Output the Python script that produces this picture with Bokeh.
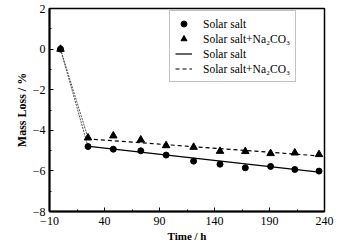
from bokeh.plotting import figure
from bokeh.models import FixedTicker, Legend, LegendItem, Range1d
from bokeh.embed import file_html
from bokeh.resources import INLINE

# ---- data ----
time_h = [0, 25, 48, 73, 96, 121, 145, 168, 191, 213, 235]
solar_salt = [0, -4.80, -4.93, -5.01, -5.22, -5.52, -5.67, -5.85, -5.78, -5.93, -6.01]
solar_salt_na = [0, -4.37, -4.27, -4.47, -4.75, -4.83, -5.03, -5.04, -5.14, -5.11, -5.19]
fit_x = [24, 235]
fit_solar = [-4.78, -6.06]
fit_na = [-4.42, -5.26]

x_ticks = [-10, 40, 90, 140, 190, 240]
x_minor = [15, 65, 115, 165, 215]
x_labels = {-10: "\u221210", 40: "40", 90: "90", 140: "140", 190: "190", 240: "240"}
y_ticks = [-8, -6, -4, -2, 0, 2]
y_minor = [-7, -5, -3, -1, 1]
y_labels = {-8: "\u22128", -6: "\u22126", -4: "\u22124", -2: "\u22122", 0: "0", 2: "2"}

label_a = "Solar salt"
label_b = "Solar salt+Na\u2082CO\u2083"

FONT = "Liberation Serif"

p = figure(width=364, height=252, output_backend="svg", toolbar_location=None,
           x_range=Range1d(-10, 240), y_range=Range1d(-8, 2),
           min_border_left=49, min_border_right=40, min_border_top=8, min_border_bottom=41)
p.background_fill_color = "white"
p.border_fill_color = "white"
p.outline_line_color = "black"
p.outline_line_width = 1.5
p.xgrid.visible = False
p.ygrid.visible = False

# connectors from the origin point
p.line(time_h[:2], solar_salt[:2], line_color="#555555", line_width=1, line_dash="2 1")
p.line(time_h[:2], solar_salt_na[:2], line_color="#555555", line_width=1, line_dash="2 1")

# fitted lines
l_solid = p.line(fit_x, fit_solar, line_color="black", line_width=1.2)
l_dash = p.line(fit_x, fit_na, line_color="black", line_width=1.2, line_dash="4 3")

# data points
r_circ = p.scatter(time_h, solar_salt, marker="circle", size=6, fill_color="black", line_color="black")
r_tri = p.scatter(time_h, solar_salt_na, marker="triangle", size=7.5, fill_color="black", line_color="black")

for ax, ticks, minor, labels in ((p.xaxis[0], x_ticks, x_minor, x_labels),
                                 (p.yaxis[0], y_ticks, y_minor, y_labels)):
    ax.ticker = FixedTicker(ticks=ticks, minor_ticks=minor)
    ax.major_label_overrides = labels
    ax.axis_line_width = 2
    ax.axis_line_color = "black"
    ax.major_tick_in = 4
    ax.major_tick_out = 0
    ax.minor_tick_in = 2
    ax.minor_tick_out = 0
    ax.major_tick_line_color = "black"
    ax.minor_tick_line_color = "black"
    ax.major_label_text_font = FONT
    ax.major_label_text_font_size = "12px"
    ax.major_label_text_color = "black"
    ax.axis_label_text_font = FONT
    ax.axis_label_text_font_style = "bold"
    ax.axis_label_text_color = "black"

p.xaxis.axis_label = "Time / h"
p.xaxis.axis_label_text_font_size = "11px"
p.xaxis.major_label_standoff = 5
p.xaxis.axis_label_standoff = 2
p.yaxis.axis_label = "Mass Loss / %"
p.yaxis.axis_label_text_font_size = "12px"
p.yaxis.major_label_standoff = 4
p.yaxis.axis_label_standoff = 1

legend = Legend(items=[
    LegendItem(label=label_a, renderers=[r_circ]),
    LegendItem(label=label_b, renderers=[r_tri]),
    LegendItem(label=label_a, renderers=[l_solid]),
    LegendItem(label=label_b, renderers=[l_dash]),
], location=(120, 129))
legend.label_text_font = FONT
legend.label_text_font_size = "11.5px"
legend.label_text_color = "black"
legend.label_height = 15
legend.glyph_height = 15
legend.glyph_width = 17
legend.spacing = 0
legend.padding = 5
legend.margin = 0
legend.label_standoff = 11
legend.border_line_color = "#888888"
legend.border_line_width = 1
legend.background_fill_color = "white"
legend.background_fill_alpha = 1
p.add_layout(legend, "center")

open("out.html", "w").write(file_html(p, INLINE))
